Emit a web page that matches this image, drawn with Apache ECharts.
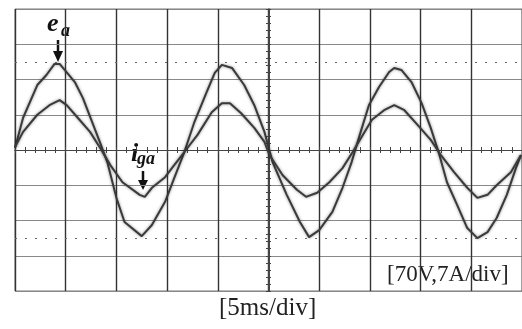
<!DOCTYPE html>
<html>
<head>
<meta charset="utf-8">
<script src="https://cdn.jsdelivr.net/npm/echarts@6/dist/echarts.min.js"></script>
<style>html,body{margin:0;padding:0;background:#fff}#c{width:522px;height:329px}</style>
</head>
<body>
<div id="c"></div>
<script>
// time in ms (5 ms/div)
const tE = [0,0.8,2.2,3.1,3.9,4.4,4.9,5.9,6.7,7.6,8.4,9.1,10.0,10.8,12.5,13.5,14.8,15.7,16.7,17.7,18.9,19.7,20.4,21.4,22.6,23.6,24.6,25.4,26.8,28.1,29.0,30.0,31.3,32.3,33.2,34.0,34.9,35.9,36.9,37.4,38.1,39.1,40.1,41.0,41.8,42.6,43.6,44.6,45.6,46.6,47.5,48.5,49.4,49.9];
// e_a in volts (70 V/div)
const eA = [4,64,129,149,171,171,159,135,103,56,14,-24,-95,-143,-171,-149,-103,-56,-4,56,115,153,169,163,129,89,36,-24,-89,-143,-173,-159,-123,-75,-24,30,89,125,155,163,159,135,93,44,-6,-64,-109,-155,-175,-163,-135,-89,-36,-10];
const tI = [0,0.8,2.2,3.4,4.4,5.1,6.1,7.4,8.4,9.4,10.6,12.3,12.8,13.5,14.8,15.7,16.7,18.0,19.4,20.4,21.2,22.3,23.6,24.6,25.1,26.4,27.8,28.7,29.8,31.0,32.3,33.3,34.3,35.2,36.4,37.4,38.4,39.7,41.0,42.0,43.3,44.6,45.6,46.6,47.5,48.9,49.9];
// i_ga in amperes (7 A/div)
const iGa = [0.6,3.6,7.0,8.9,9.9,8.9,6.6,3.6,0.4,-3.0,-6.4,-8.9,-9.3,-7.5,-5.4,-3.0,-0.4,3.0,7.5,9.3,9.3,7.3,4.4,1.6,-1.0,-5.0,-7.9,-9.3,-8.5,-6.4,-3.6,-0.4,3.0,6.0,7.9,8.9,7.9,5.0,2.0,-1.0,-4.4,-7.5,-9.5,-8.9,-7.0,-4.4,-1.0];
const refLevels = [175, -175]; // dotted reference lines (V)

const chart = echarts.init(document.getElementById('c'), null, {renderer: 'canvas'});
const wave = {color: '#3a3a3a', width: 2, shadowColor: 'rgba(0,0,0,0.45)', shadowBlur: 3};
const tickStyle = {color: '#444', width: 1};
const centerX = (pos) => ({
  type: 'value', min: 0, max: 50, interval: 5, position: pos,
  axisLabel: {show: false},
  axisLine: {show: true, onZero: true, onZeroAxisIndex: 0, lineStyle: tickStyle},
  axisTick: {show: true, length: 3, lineStyle: tickStyle},
  minorTick: {show: true, splitNumber: 5, length: 3, lineStyle: tickStyle},
  splitLine: {show: pos === 'bottom', lineStyle: {color: '#333', width: 1.4}}
});
const centerY = (pos) => ({
  type: 'value', min: -28, max: 28, interval: 7, position: pos, offset: -254,
  axisLabel: {show: false},
  axisLine: {show: true, onZero: false, lineStyle: tickStyle},
  axisTick: {show: true, length: 3, lineStyle: tickStyle},
  minorTick: {show: true, splitNumber: 5, length: 3, lineStyle: tickStyle},
  splitLine: {show: false}
});
chart.setOption({
  animation: false,
  backgroundColor: '#fff',
  grid: {left: 15, top: 9, width: 508, height: 282, show: true, borderColor: '#777', borderWidth: 1, backgroundColor: 'transparent'},
  xAxis: [centerX('bottom'), centerX('top')],
  yAxis: [{
    type: 'value', min: -280, max: 280, interval: 70,
    axisLabel: {show: false}, axisLine: {show: false}, axisTick: {show: false},
    splitLine: {show: true, lineStyle: {color: '#888', width: 1}}
  }, centerY('left'), centerY('right')],
  series: [{
    name: 'e_a', type: 'line', xAxisIndex: 0, yAxisIndex: 0, showSymbol: false,
    data: tE.map((t, k) => [t, eA[k]]), lineStyle: wave,
    markLine: {silent: true, symbol: 'none', label: {show: false},
      lineStyle: {type: [2, 8], color: '#666', width: 1},
      data: refLevels.map(v => ({yAxis: v}))}
  }, {
    name: 'i_ga', type: 'line', xAxisIndex: 0, yAxisIndex: 1, showSymbol: false,
    data: tI.map((t, k) => [t, iGa[k]]), lineStyle: wave
  }],
  graphic: [
    {type: 'text', left: 47, top: 11, style: {text: 'e', font: 'italic bold 26px "Liberation Serif"', fill: '#111'}},
    {type: 'text', left: 61, top: 22, style: {text: 'a', font: 'italic bold 18px "Liberation Serif"', fill: '#111'}},
    {type: 'line', shape: {x1: 58, y1: 40, x2: 58, y2: 53}, style: {stroke: '#111', lineWidth: 2.5}},
    {type: 'polygon', shape: {points: [[53, 51], [63, 51], [58, 62]]}, style: {fill: '#111'}},
    {type: 'text', left: 131, top: 141, style: {text: 'i', font: 'italic bold 26px "Liberation Serif"', fill: '#111'}},
    {type: 'text', left: 137, top: 150, style: {text: 'ga', font: 'italic bold 18px "Liberation Serif"', fill: '#111'}},
    {type: 'line', shape: {x1: 143, y1: 171, x2: 143, y2: 182}, style: {stroke: '#111', lineWidth: 2.5}},
    {type: 'polygon', shape: {points: [[138, 180], [148, 180], [143, 190]]}, style: {fill: '#111'}},
    {type: 'text', left: 387, top: 263, style: {text: '[70V,7A/div]', font: '23px "Liberation Serif"', fill: '#222'}},
    {type: 'text', left: 219, top: 296, style: {text: '[5ms/div]', font: '25px "Liberation Serif"', fill: '#222'}}
  ]
});
</script>
</body>
</html>
